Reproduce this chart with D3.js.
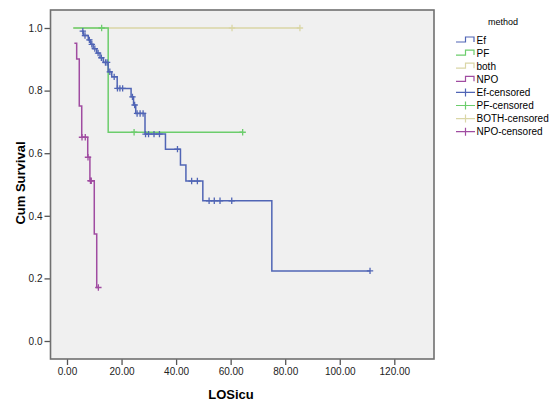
<!DOCTYPE html>
<html>
<head>
<meta charset="utf-8">
<script src="https://cdn.jsdelivr.net/npm/d3@7"></script>
<style>
    body { margin: 0; background: #ffffff; }
    text { font-family: Arial, "Liberation Sans", sans-serif; }
</style>
</head>
<body>
<div id="chart"></div>
<script>
// method groups, in legend order
const methods = ["Ef", "PF", "both", "NPO"];
const censoredLabels = ["Ef-censored", "PF-censored", "BOTH-censored", "NPO-censored"];

// survival steps [time, cum survival after step], first entry is where the curve starts
const efSteps = [[5.4, 0.99], [6.0, 0.976], [7.8, 0.962], [8.7, 0.948], [9.6, 0.934], [10.9, 0.92],
    [12.1, 0.905], [13.3, 0.89], [15.1, 0.86], [16.4, 0.844], [18.4, 0.807], [23.5, 0.78],
    [24.4, 0.754], [25.2, 0.727], [28.6, 0.661], [36.1, 0.613], [41.6, 0.562], [43.6, 0.511],
    [49.8, 0.448], [75.1, 0.224]];
const efCensored = [[5.8, 0.99], [6.6, 0.976], [8.2, 0.962], [9.1, 0.948], [10.2, 0.934], [11.4, 0.92],
    [12.6, 0.905], [14.1, 0.89], [14.7, 0.89], [15.7, 0.86], [17.3, 0.844], [18.5, 0.807],
    [19.4, 0.807], [20.4, 0.807], [24.0, 0.78], [24.8, 0.754], [25.7, 0.727], [26.8, 0.727],
    [27.9, 0.727], [28.8, 0.661], [29.9, 0.661], [31.9, 0.661], [33.9, 0.661], [40.5, 0.613],
    [45.7, 0.511], [47.8, 0.511], [52.1, 0.448], [54.0, 0.448], [56.1, 0.448], [60.4, 0.448],
    [111.1, 0.224]];

const pfSteps = [[2.3, 1.0], [15.1, 0.667]];
const pfCensored = [[12.7, 1.0], [24.6, 0.667], [64.4, 0.667]];

const bothSteps = [[2.3, 1.0]];
const bothCensored = [[60.5, 1.0], [85.4, 1.0]];

const npoSteps = [[2.7, 0.951], [3.55, 0.901], [4.5, 0.751], [5.4, 0.651], [7.6, 0.587],
    [8.4, 0.512], [10.0, 0.342], [10.9, 0.171]];
const npoCensored = [[5.5, 0.651], [6.7, 0.651], [7.7, 0.587], [8.6, 0.512], [8.9, 0.512], [11.5, 0.171]];

const xTicks = [0, 20, 40, 60, 80, 100, 120];
const yTicks = [0, 0.2, 0.4, 0.6, 0.8, 1.0];

var KMCHART = KMCHART || { };

KMCHART.SETTINGS = {
    width: 551,
    height: 401,
    frame: {left: 50.5, right: 434, top: 10, bottom: 359},
    colors: {Ef: "#5065b5", PF: "#6ccd6c", both: "#dad6a6", NPO: "#a04ca1"},
    lineWidth: 1.5,
    censorSize: 3.2
};

KMCHART.GRAPHS = {
    makeSVG: function(graphElem, height, width){
        return d3.select(graphElem)
            .append("svg")
            .attr("width", width)
            .attr("height", height);
    },

    //builds a KM step path from the step list, carried out to the last censored time
    stepPath: function(steps, censored, xScale, yScale){
        const pts = [];
        steps.forEach((d, i) => {
            if(i > 0){
                pts.push([d[0], steps[i - 1][1]]);
            }
            pts.push(d);
        });
        const lastT = d3.max(censored, d => d[0]);
        const last = steps[steps.length - 1];
        if(lastT > last[0]){
            pts.push([lastT, last[1]]);
        }
        return d3.line().x(d => xScale(d[0])).y(d => yScale(d[1]))(pts);
    },

    drawCensorMarks: function(svg, data, xScale, yScale, color){
        const s = KMCHART.SETTINGS.censorSize;
        const g = svg.append("g");
        g.selectAll("path")
            .data(data)
            .join("path")
            .attr("d", d => {
                const x = xScale(d[0]), y = yScale(d[1]);
                return `M${x - s},${y}H${x + s}M${x},${y - s}V${y + s}`;
            })
            .attr("stroke", color)
            .attr("stroke-width", 1.3)
            .attr("fill", "none");
        return g;
    }
};

const cfg = KMCHART.SETTINGS;
const fr = cfg.frame;
const svg = KMCHART.GRAPHS.makeSVG("#chart", cfg.height, cfg.width);

// 0 -> 67px, 120 -> 394.3px ; 0.0 -> 341px, 1.0 -> 28px
const pxPerT = (394.3 - 67) / 120;
const xScale = d3.scaleLinear()
    .domain([(fr.left - 67) / pxPerT, (fr.right - 67) / pxPerT])
    .range([fr.left, fr.right]);
const pxPerS = 341 - 28;
const yScale = d3.scaleLinear()
    .domain([(341 - fr.bottom) / pxPerS, (341 - fr.top) / pxPerS])
    .range([fr.bottom, fr.top]);

//plot background
svg.append("rect")
    .attr("x", fr.left).attr("y", fr.top)
    .attr("width", fr.right - fr.left).attr("height", fr.bottom - fr.top)
    .attr("fill", "#f0f0f0");

//axes
const xAxis = d3.axisBottom(xScale).tickValues(xTicks).tickFormat(d3.format(".2f")).tickSize(6).tickPadding(3);
const yAxis = d3.axisLeft(yScale).tickValues(yTicks).tickFormat(d3.format(".1f")).tickSize(6).tickPadding(2);

const gx = svg.append("g").attr("transform", `translate(0,${fr.bottom})`).call(xAxis);
const gy = svg.append("g").attr("transform", `translate(${fr.left},0)`).call(yAxis);
[gx, gy].forEach(g => {
    g.select(".domain").remove();
    g.selectAll(".tick line").attr("stroke", "#555").attr("stroke-width", 1.3);
    g.selectAll(".tick text").attr("fill", "#222").style("font-size", "10px")
        .style("font-family", "Arial, 'Liberation Sans', sans-serif");
});

//curves, drawn bottom to top
const groups = [
    {name: "both", steps: bothSteps, censored: bothCensored},
    {name: "PF", steps: pfSteps, censored: pfCensored},
    {name: "NPO", steps: npoSteps, censored: npoCensored},
    {name: "Ef", steps: efSteps, censored: efCensored}
];

groups.forEach(grp => {
    const color = cfg.colors[grp.name];
    svg.append("path")
        .attr("d", KMCHART.GRAPHS.stepPath(grp.steps, grp.censored, xScale, yScale))
        .attr("fill", "none")
        .attr("stroke", color)
        .attr("stroke-width", cfg.lineWidth);
    KMCHART.GRAPHS.drawCensorMarks(svg, grp.censored, xScale, yScale, color);
});

//frame border
svg.append("rect")
    .attr("x", fr.left).attr("y", fr.top)
    .attr("width", fr.right - fr.left).attr("height", fr.bottom - fr.top)
    .attr("fill", "none")
    .attr("stroke", "#707070")
    .attr("stroke-width", 1.6);

//axis titles
svg.append("text")
    .attr("x", 231).attr("y", 399)
    .attr("text-anchor", "middle")
    .style("font-size", "13px").style("font-weight", "bold")
    .text("LOSicu");

svg.append("text")
    .attr("transform", "translate(25,183) rotate(-90)")
    .attr("text-anchor", "middle")
    .style("font-size", "13px").style("font-weight", "bold")
    .text("Cum Survival");

//legend
const legend = svg.append("g");
legend.append("text")
    .attr("x", 503).attr("y", 24.5)
    .attr("text-anchor", "middle")
    .style("font-size", "9px")
    .text("method");

const rowY = i => 40 + i * 13.1;
methods.forEach((m, i) => {
    const y = rowY(i);
    legend.append("path")
        .attr("d", `M456,${y + 2}H465.5V${y - 3}H474V${y + 2}`)
        .attr("fill", "none")
        .attr("stroke", cfg.colors[m])
        .attr("stroke-width", 1.2);
    legend.append("text")
        .attr("x", 476.5).attr("y", y + 3.5)
        .style("font-size", "10px")
        .text(m);
});
censoredLabels.forEach((lab, i) => {
    const y = rowY(i + 4);
    const color = cfg.colors[methods[i]];
    legend.append("path")
        .attr("d", `M456,${y}H475M465.5,${y - 4}V${y + 4}`)
        .attr("fill", "none")
        .attr("stroke", color)
        .attr("stroke-width", 1.2);
    legend.append("text")
        .attr("x", 476.5).attr("y", y + 3.5)
        .style("font-size", "10px")
        .text(lab);
});
</script>
</body>
</html>
